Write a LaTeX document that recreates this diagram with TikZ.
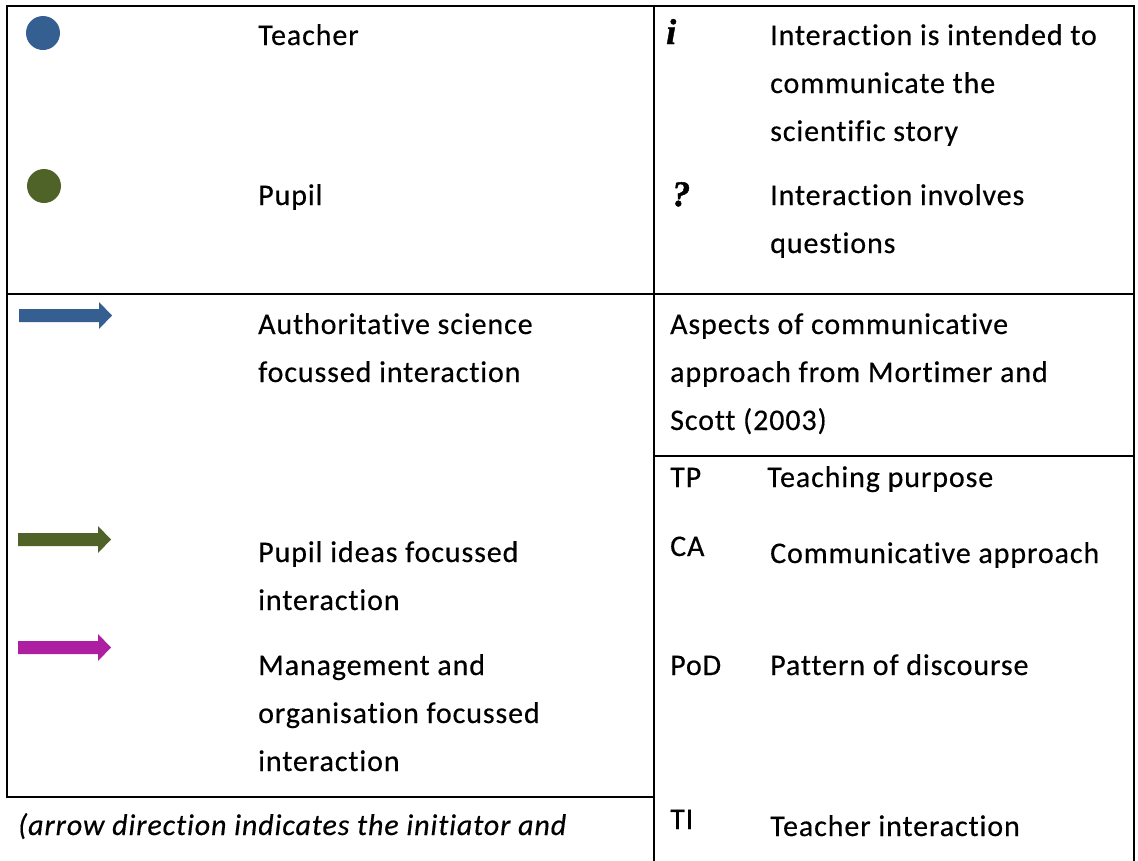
\documentclass[tikz,border=0pt]{standalone}
\usepackage{fontspec}
\setmainfont{Carlito}[LetterSpace=3, Ligatures=NoCommon, FakeBold=0.4]
\newfontfamily\symfont{Liberation Serif}[FakeBold=1.2]
\definecolor{tblue}{RGB}{54,95,145}
\definecolor{pgreen}{RGB}{79,98,40}
\definecolor{mmag}{RGB}{174,30,160}
\begin{document}
\begin{tikzpicture}[x=1pt,y=-1pt,
  rule/.style={line width=2.2pt, line cap=rect},
  txt/.style={anchor=base west, inner sep=0pt, font=\fontsize{30}{48}\selectfont},
  itxt/.style={txt, font=\fontsize{30}{48}\selectfont\itshape},
  sym/.style={anchor=base west, inner sep=0pt, font=\fontsize{36}{38}\selectfont\symfont\bfseries\itshape},
  dot/.style={circle, inner sep=0pt, minimum size=34pt},
  larrow/.pic={\fill[pic actions] (0,0) -- (80,0) -- (80,-7) -- (93,6.5) -- (80,20) -- (80,13) -- (0,13) -- cycle;}
]
\useasboundingbox (0,0) rectangle (1138,860);
% table rules
\coordinate (tl) at (7,6);
\coordinate (tr) at (1134,6);
\coordinate (tm) at (654,6);
\draw[rule] (tl) -- (tr);
\draw[rule] (tl) -- (7,797) -- (654,797);
\draw[rule] (tr) -- (1134,860);
\draw[rule] (tm) -- (654,860);
\draw[rule] (7,294) -- (1134,294);
\draw[rule] (654,456) -- (1134,456);
% legend glyphs
\node[dot, fill=tblue] (teacherdot) at (43,33) {};
\node[dot, fill=pgreen] (pupildot) at (44,186) {};
\pic[fill=tblue] (arrA) at (19,309) {larrow};
\pic[fill=pgreen] (arrP) at (18,533) {larrow};
\pic[fill=mmag] (arrM) at (18,641) {larrow};
\node[sym] (symi) at (666,44) {i};
\node[sym] (symq) at (672,206) {?};
% left texts
\node[txt] (l1) at (258,45) {Teacher};
\node[txt] (l2) at (258,205) {Pupil};
\node[txt] (l3) at (258,334) {Authoritative science};
\node[txt] (l4) at (258,382) {focussed interaction};
\node[txt] (l5) at (258,562) {Pupil ideas focussed};
\node[txt] (l6) at (258,610) {interaction};
\node[txt] (l7) at (258,675) {Management and};
\node[txt] (l8) at (258,723) {organisation focussed};
\node[txt] (l9) at (258,771) {interaction};
\node[itxt] (l10) at (18,835) {(arrow direction indicates the initiator and};
% right texts
\node[txt] (r1) at (770,45) {Interaction is intended to};
\node[txt] (r2) at (770,93) {communicate the};
\node[txt] (r3) at (770,141) {scientific story};
\node[txt] (r4) at (770,205) {Interaction involves};
\node[txt] (r5) at (770,253) {questions};
\node[txt] (r6) at (670,334) {Aspects of communicative};
\node[txt] (r7) at (670,382) {approach from Mortimer and};
\node[txt] (r8) at (670,430) {Scott (2003)};
\node[txt] (k1) at (670,487) {TP};
\node[txt] (d1) at (767,487) {Teaching purpose};
\node[txt] (k2) at (670,556) {CA};
\node[txt] (d2) at (770,563) {Communicative approach};
\node[txt] (k3) at (670,675) {PoD};
\node[txt] (d3) at (770,675) {Pattern of discourse};
\node[txt] (k4) at (670,829) {TI};
\node[txt] (d4) at (770,836) {Teacher interaction};
\end{tikzpicture}
\end{document}
